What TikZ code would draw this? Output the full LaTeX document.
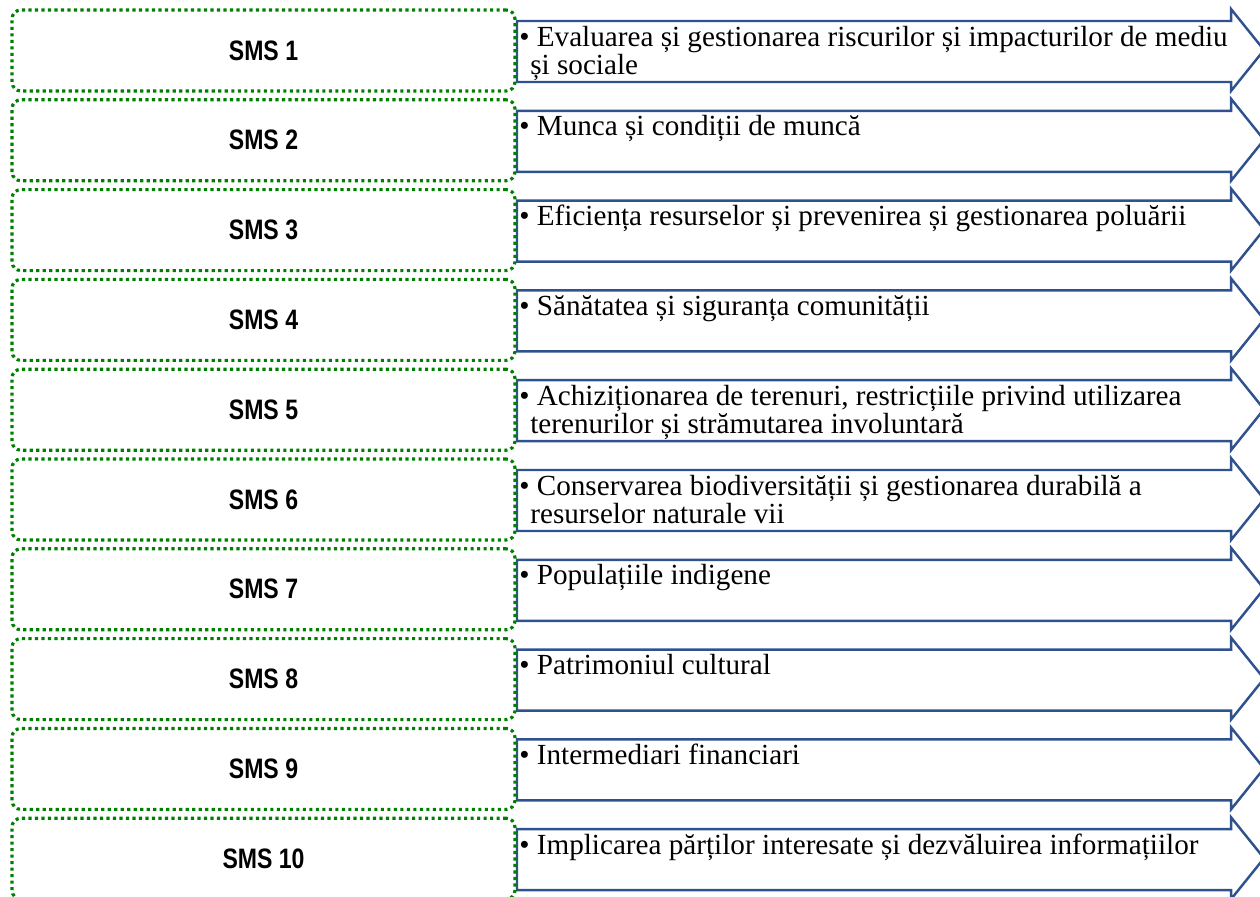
\documentclass[tikz,border=0pt]{standalone}
\usepackage{fontspec}
\setmainfont{Liberation Serif}
\newfontfamily\smsfont[FakeStretch=0.82]{Liberation Sans}
\definecolor{smsgreen}{RGB}{0,128,0}
\definecolor{arrowblue}{RGB}{47,82,143}
\tikzset{
  smsbox/.style={draw=smsgreen, line width=1.8pt, dash pattern=on 1.8pt off 1.9pt,
    rounded corners=5pt, minimum width=10.06cm, minimum height=1.62cm, inner sep=0pt,
    font=\smsfont\bfseries\fontsize{16}{19}\selectfont},
  arrowline/.style={draw=arrowblue, line width=1.4pt, line join=miter},
  itemtext/.style={anchor=base west, inner sep=0pt, font=\fontsize{16.6}{20}\selectfont}
}
\begin{document}
\begin{tikzpicture}[x=0.02cm, y=-0.02cm]
\clip (0,0) rectangle (1260,896);
\foreach \i/\first/\second in {
  1/{Evaluarea și gestionarea riscurilor și impacturilor de mediu}/{și sociale},
  2/{Munca și condiții de muncă}/{},
  3/{Eficiența resurselor și prevenirea și gestionarea poluării}/{},
  4/{Sănătatea și siguranța comunității}/{},
  5/{Achiziționarea de terenuri, restricțiile privind utilizarea}/{terenurilor și strămutarea involuntară},
  6/{Conservarea biodiversității și gestionarea durabilă a}/{resurselor naturale vii},
  7/{Populațiile indigene}/{},
  8/{Patrimoniul cultural}/{},
  9/{Intermediari financiari}/{},
  10/{Implicarea părților interesate și dezvăluirea informațiilor}/{}} {
  \pgfmathsetmacro\rowtop{10+89.8*(\i-1)}
  % arrow with the item
  \draw[arrowline] (517,\rowtop+11) -- (1231,\rowtop+11) -- (1231,\rowtop-1)
    -- (1264,\rowtop+40) -- (1231,\rowtop+81) -- (1231,\rowtop+72)
    -- (517,\rowtop+72) -- cycle;
  \node[smsbox] (sms\i) at (263.5,\rowtop+40.5) {SMS \i};
  \node[itemtext] (item\i) at (519,\rowtop+36) {\textbullet\ \first};
  \if\relax\detokenize\expandafter{\second}\relax\else
    \node[itemtext] (itemb\i) at (530,\rowtop+64) {\second};
  \fi
}
\end{tikzpicture}
\end{document}
